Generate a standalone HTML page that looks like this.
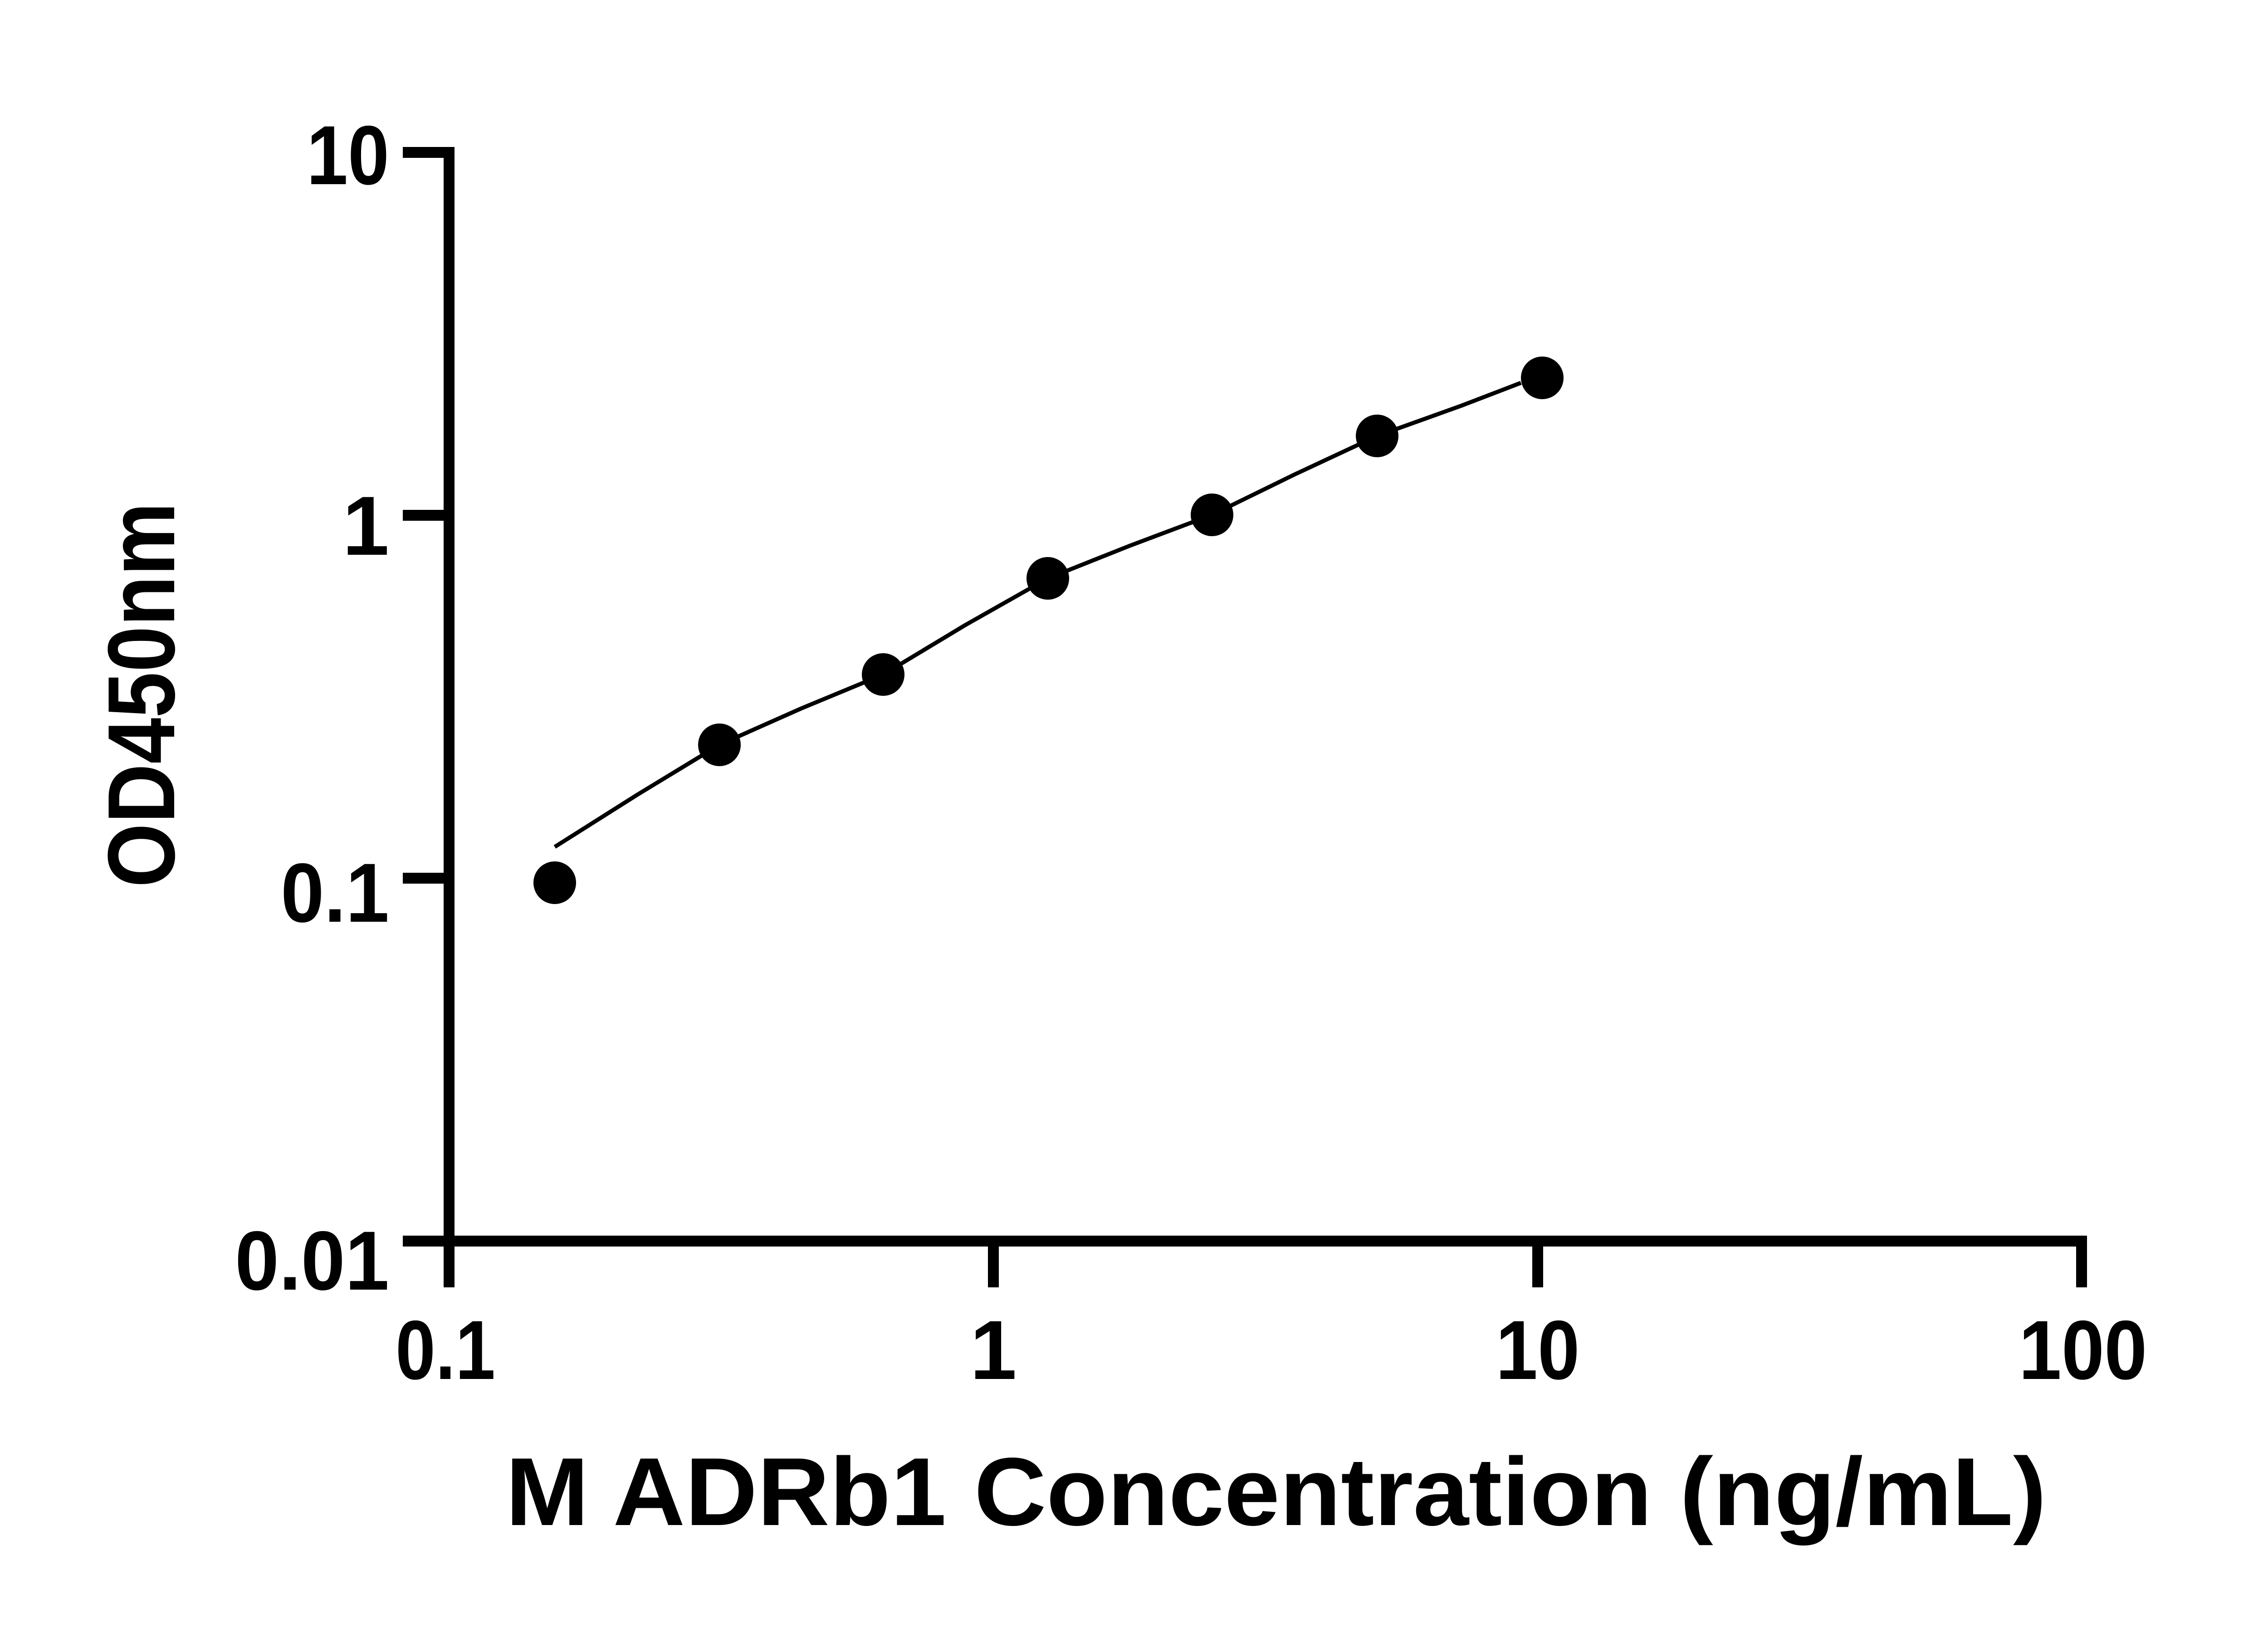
<!DOCTYPE html>
<html><head><meta charset="utf-8"><style>
html,body{margin:0;padding:0;background:#fff;}
svg{display:block;}
text{font-family:"Liberation Sans",sans-serif;font-weight:bold;fill:#000;}
</style></head><body>
<svg width="5142" height="3600" viewBox="0 0 5142 3600" xmlns="http://www.w3.org/2000/svg">
<g stroke="#000" stroke-width="24" fill="none" stroke-linecap="butt">
<line x1="990" y1="324" x2="990" y2="2748"/>
<line x1="978" y1="2736" x2="4601" y2="2736"/>
<line x1="888" y1="336" x2="1002" y2="336"/>
<line x1="888" y1="1136" x2="990" y2="1136"/>
<line x1="888" y1="1936" x2="990" y2="1936"/>
<line x1="888" y1="2736" x2="990" y2="2736"/>
<line x1="990" y1="2736" x2="990" y2="2838"/>
<line x1="2190" y1="2736" x2="2190" y2="2838"/>
<line x1="3390" y1="2736" x2="3390" y2="2838"/>
<line x1="4589" y1="2724" x2="4589" y2="2838"/>
</g>
<polyline fill="none" stroke="#000" stroke-width="9" stroke-linejoin="round" points="1223,1867 1405,1752 1586,1642 1766,1562 1947,1487 2128,1378 2310,1275 2491,1203 2672,1135 2854,1046 3036,961 3220,895 3353,844"/>
<g fill="#000">
<circle cx="1223" cy="1946" r="47"/>
<circle cx="1586" cy="1642" r="47"/>
<circle cx="1947" cy="1487" r="47"/>
<circle cx="2310" cy="1275" r="47"/>
<circle cx="2672" cy="1135" r="47"/>
<circle cx="3036" cy="961" r="47"/>
<circle cx="3400" cy="833" r="47"/>
</g>
<g font-size="185" text-anchor="end">
<text x="858" y="406" textLength="182" lengthAdjust="spacingAndGlyphs">10</text>
<text x="858" y="1223">1</text>
<text x="858" y="2032" textLength="239" lengthAdjust="spacingAndGlyphs">0.1</text>
<text x="858" y="2843" textLength="340" lengthAdjust="spacingAndGlyphs">0.01</text>
</g>
<g font-size="185" text-anchor="middle">
<text x="982" y="3040" textLength="220" lengthAdjust="spacingAndGlyphs">0.1</text>
<text x="2190" y="3040">1</text>
<text x="3390" y="3040" textLength="185" lengthAdjust="spacingAndGlyphs">10</text>
<text x="4592" y="3040" textLength="283" lengthAdjust="spacingAndGlyphs">100</text>
</g>
<text x="2813" y="3362" font-size="213" text-anchor="middle" textLength="3397" lengthAdjust="spacingAndGlyphs">M ADRb1 Concentration (ng/mL)</text>
<text transform="translate(384,1532) rotate(-90)" font-size="210" text-anchor="middle" textLength="849" lengthAdjust="spacingAndGlyphs">OD450nm</text>
</svg>
</body></html>
